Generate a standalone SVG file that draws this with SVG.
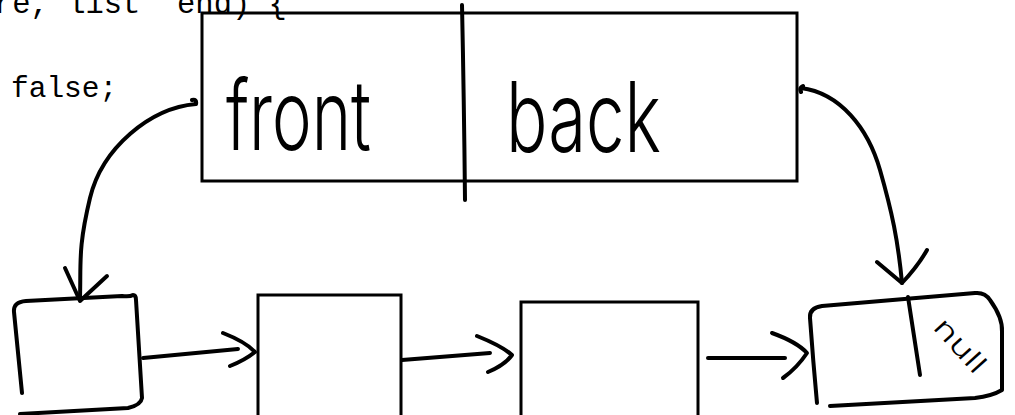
<svg xmlns="http://www.w3.org/2000/svg" width="1015" height="415" viewBox="0 0 1015 415">
<style>
.code{font-family:"Liberation Mono","Courier New",monospace;fill:#000}
.box{fill:none;stroke:#000;stroke-width:3}
.hand{fill:none;stroke:#000;stroke-width:4;stroke-linecap:round;stroke-linejoin:round}
.htext{font-family:Inter,"Liberation Sans",sans-serif;font-weight:300;fill:#000}
</style>
<rect width="1015" height="415" fill="#fff"/>
<g id="code">
<text class="code" x="-6" y="13" font-size="30.5" xml:space="preserve">re, list  end) {</text>
<text class="code" x="11" y="97" font-size="29.5">false;</text>
</g>
<g id="queue">
<rect class="box" x="202" y="13" width="595" height="168"/>
<path class="hand" d="M462,5 Q464,100 465,200" stroke-width="3"/>
<text class="htext" transform="translate(226,150) scale(1,1.35)" font-size="72" textLength="145" lengthAdjust="spacingAndGlyphs">front</text>
<text class="htext" transform="translate(506,152) scale(1,1.35)" font-size="72" textLength="155" lengthAdjust="spacingAndGlyphs">back</text>
</g>
<g id="node1">
<path class="hand" d="M22,393 L14,312 Q13,302 26,301 L122,296 Q130,297 133,295 Q136,295 136,300 L142,398 Q141,405 128,408 L20,414"/>
</g>
<g id="node2">
<rect class="box" x="258" y="295" width="143" height="130"/>
</g>
<g id="node3">
<rect class="box" x="521" y="302" width="177" height="130"/>
</g>
<g id="node4">
<path class="hand" d="M817,403 Q813,360 810,318 Q809,308 822,306 L975,293 Q985,292 990,300 Q1003,318 1002,332 L1002,390 Q992,396 975,398 L830,406"/>
<path class="hand" d="M908,297 L920,375"/>
<text class="htext" transform="translate(932,328) rotate(48)" font-size="27" textLength="64" lengthAdjust="spacingAndGlyphs">null</text>
</g>
<g id="connectors">
<path class="hand" d="M192,100 Q197,99 196,104 M196,104 C150,108 102,148 90,198 S81,262 80,298"/>
<path class="hand" d="M65,268 L80,301 L107,276"/>
<path class="hand" d="M803,86 Q799,88 801,92 M801,88 C840,93 868,128 880,170 S898,240 902,283"/>
<path class="hand" d="M877,262 L902,283 Q918,266 927,250"/>
<path class="hand" d="M143,358 L238,349"/>
<path class="hand" d="M223,333 Q246,342 255,352 Q245,360 230,366"/>
<path class="hand" d="M402,360 L490,353"/>
<path class="hand" d="M477,336 Q502,346 512,355 Q505,365 488,372"/>
<path class="hand" d="M708,358 L785,358"/>
<path class="hand" d="M772,333 Q797,342 807,353 Q797,368 783,378"/>
</g>
</svg>
